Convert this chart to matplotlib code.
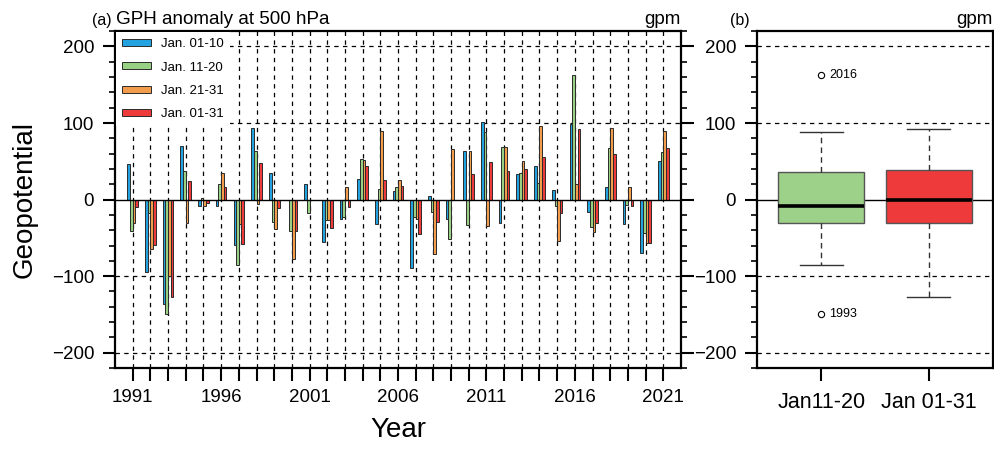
import numpy as np
import matplotlib
matplotlib.use('Agg')
import matplotlib.pyplot as plt
from matplotlib.ticker import MultipleLocator

plt.rcParams['font.family'] = ['Liberation Sans', 'DejaVu Sans']

years = list(range(1991, 2022))

# GPH anomaly at 500 hPa (gpm), per January period
jan_01_10 = [46, -94, -136, 70, -9, -9, -59, 94, 35, -1, 20, -56, -25, 27, -32, 11,
             -90, 5, -25, 63, 101, -30, 34, 44, 13, 99, -16, 17, -32, -70, 50]
jan_11_20 = [-41, -17, -150, 37, 2, 20, -86, 63, -29, -41, -17, -27, -23, 53, 14, 16,
             -23, -16, -52, -33, 88, 69, 35, 22, -9, 163, -36, 67, -7, -44, 62]
jan_21_31 = [-30, -65, -100, -30, -8, 35, -32, -6, -38, -77, 0, -27, 17, 52, 90, 26,
             -25, -71, 66, 63, -34, 69, 51, 96, -54, 20, -43, 93, 16, -57, 90]
jan_01_31 = [-10, -59, -127, 24, -5, 16, -58, 48, -11, -41, 0, -37, -10, 44, 26, 18,
             -45, -29, -1, 33, 49, 37, 40, 56, -18, 92, -31, 60, -8, -57, 68]

series = [jan_01_10, jan_11_20, jan_21_31, jan_01_31]
series_labels = ['Jan. 01-10', 'Jan. 11-20', 'Jan. 21-31', 'Jan. 01-31']
colors = ['#22a3e0', '#98d184', '#f29d4b', '#ee3a3a']

box_labels = ['Jan11-20', 'Jan 01-31']
box_data = [jan_11_20, jan_01_31]
box_colors = ['#9dd189', '#ee3a3a']

fig = plt.figure(figsize=(9.95, 4.51), dpi=100)
ax = fig.add_axes([0.1156, 0.184, 0.5688, 0.747])
bx = fig.add_axes([0.7608, 0.184, 0.2372, 0.747])

grid_kw = dict(color='black', lw=0.9, ls=(0, (3.5, 3.5)), zorder=0)

# ---- (a) grouped bars ----
x = np.array(years)
w = 0.15
for i, (vals, lab, col) in enumerate(zip(series, series_labels, colors)):
    ax.bar(x + (i - 1.5) * w, vals, width=w, color=col, edgecolor='#2a2a2a',
           linewidth=0.7, label=lab, zorder=3)

for yr in years:
    ax.axvline(yr, **grid_kw)
for yv in (-200, -100, 100, 200):
    ax.axhline(yv, **grid_kw)
ax.axhline(0, color='black', lw=1.0, zorder=4)

ax.set_xlim(1990, 2022)
ax.set_ylim(-220, 220)
ax.set_xticks(years)
ax.set_xticklabels([str(y) if (y - 1991) % 5 == 0 else '' for y in years])
ax.yaxis.set_major_locator(MultipleLocator(100))
ax.yaxis.set_minor_locator(MultipleLocator(20))
ax.tick_params(axis='both', which='major', direction='out', length=9, width=1.5,
               labelsize=13.5, pad=6)
ax.tick_params(axis='y', which='both', right=True)
ax.tick_params(axis='y', which='minor', direction='out', length=4.5, width=1.2)
ax.tick_params(axis='x', which='minor', bottom=False)
for s in ax.spines.values():
    s.set_linewidth(1.6)

ax.set_ylabel('Geopotential', fontsize=20, labelpad=10)
ax.set_xlabel('Year', fontsize=20, labelpad=8)
ax.text(0.002, 1.01, 'GPH anomaly at 500 hPa', transform=ax.transAxes,
        fontsize=13.6, ha='left', va='bottom')
ax.text(-0.006, 1.01, '(a)', transform=ax.transAxes, fontsize=11.5,
        ha='right', va='bottom')
ax.text(1.0, 1.01, 'gpm', transform=ax.transAxes, fontsize=13.5,
        ha='right', va='bottom')

leg = ax.legend(loc='upper left', frameon=True, fontsize=9.5, handlelength=2.2,
                handleheight=0.45, labelspacing=0.85, handletextpad=0.75,
                borderpad=0.45, borderaxespad=0.1, fancybox=False)
leg.get_frame().set_facecolor('white')
leg.get_frame().set_edgecolor('none')
leg.get_frame().set_alpha(1.0)
leg.set_zorder(5)

# ---- (b) box plots ----
pos = [1, 2]
bp = bx.boxplot(box_data, positions=pos, widths=0.8, whis=1.5, patch_artist=True,
                capwidths=0.4, zorder=3,
                medianprops=dict(color='black', lw=2.6),
                whiskerprops=dict(color='#333333', lw=1.0, ls=(0, (4, 3))),
                capprops=dict(color='#333333', lw=1.0),
                boxprops=dict(edgecolor='#555555', lw=1.0),
                flierprops=dict(marker='o', markersize=4.5, markerfacecolor='white',
                                markeredgecolor='black', markeredgewidth=0.8))
for patch, col in zip(bp['boxes'], box_colors):
    patch.set_facecolor(col)

# label outliers with their year
for k, (fl, vals) in enumerate(zip(bp['fliers'], box_data)):
    for fy in fl.get_ydata():
        yr = years[vals.index(fy)]
        bx.text(pos[k] + 0.07, fy, str(yr), fontsize=9, va='center', ha='left')

for yv in (-200, -100, 100, 200):
    bx.axhline(yv, **grid_kw)
bx.axhline(0, color='black', lw=1.0, zorder=2)

bx.set_xlim(0.4, 2.6)
bx.set_ylim(-220, 220)
bx.set_xticks(pos)
bx.set_xticklabels(box_labels)
bx.yaxis.set_major_locator(MultipleLocator(100))
bx.yaxis.set_minor_locator(MultipleLocator(20))
bx.tick_params(axis='both', which='major', direction='out', length=9, width=1.5,
               labelsize=13.5, pad=6)
bx.tick_params(axis='x', labelsize=15.5, pad=8)
bx.tick_params(axis='y', which='minor', direction='out', length=4.5, width=1.2)
for s in bx.spines.values():
    s.set_linewidth(1.6)
bx.text(-0.03, 1.01, '(b)', transform=bx.transAxes, fontsize=11.5,
        ha='right', va='bottom')
bx.text(1.0, 1.01, 'gpm', transform=bx.transAxes, fontsize=13.5,
        ha='right', va='bottom')

fig.savefig('out.png', dpi=100)
